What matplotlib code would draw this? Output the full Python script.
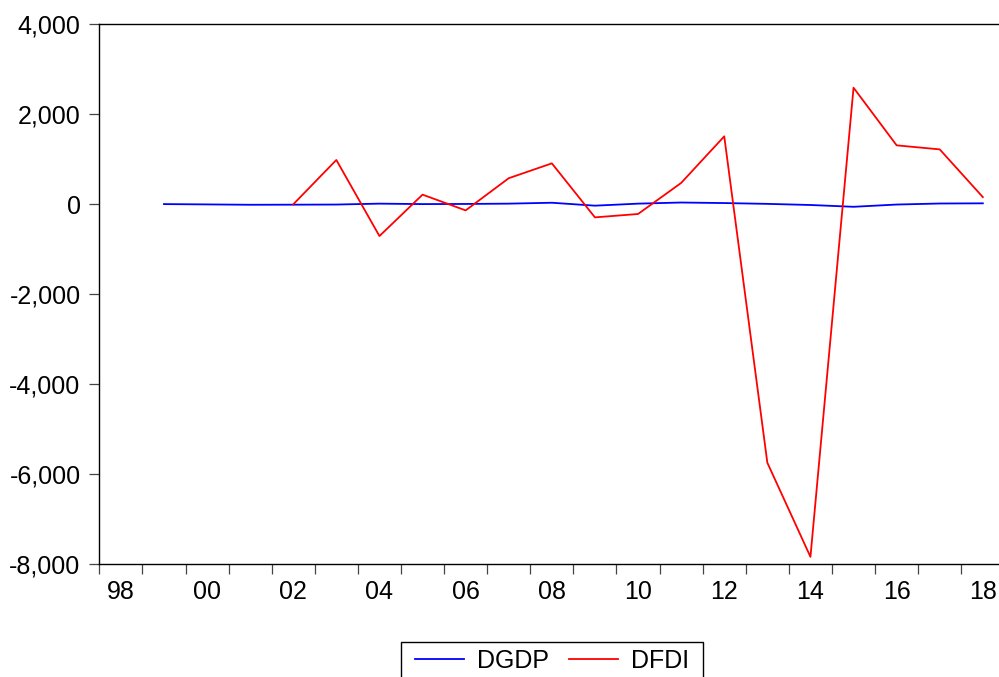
import matplotlib
matplotlib.use('Agg')
from matplotlib import pyplot as plt
from matplotlib.ticker import FuncFormatter, FixedLocator

plt.rcParams['font.family'] = ['Liberation Sans', 'DejaVu Sans']

# 年次データ
years_dgdp = list(range(1999, 2019))
dgdp = [5, -2, -10, -8, -5, 15, 5, 8, 15, 35, -30, 15, 40, 28, 10, -15, -55, -5, 18, 22]

years_dfdi = list(range(2002, 2019))
dfdi = [0, 985, -705, 215, -135, 580, 910, -290, -215, 475, 1510,
        -5740, -7830, 2590, 1310, 1220, 160]

year_labels = ['98', '00', '02', '04', '06', '08', '10', '12', '14', '16', '18']

W, H = 999, 677
fig = plt.figure(figsize=(W / 100, H / 100), dpi=100)
ax = fig.add_axes([0.0994, 0.1662, 0.906, 0.798])

# 点は各年の区間の中央に置く
ax.plot([y + 0.5 for y in years_dgdp], dgdp, color='#0000ff', lw=1.3, label='DGDP')
ax.plot([y + 0.5 for y in years_dfdi], dfdi, color='#ff0000', lw=1.3, label='DFDI')

ax.set_xlim(1998, 2019)
ax.set_ylim(-8000, 4000)
ax.set_yticks([-8000, -6000, -4000, -2000, 0, 2000, 4000])
ax.yaxis.set_major_formatter(FuncFormatter(lambda v, p: f'{int(v):,}'))

# 目盛りは年の境界、ラベルは偶数年の中央
ax.xaxis.set_major_locator(FixedLocator(list(range(1998, 2020))))
ax.xaxis.set_major_formatter(FuncFormatter(lambda v, p: ''))
ax.set_xticks([1998.5 + 2 * i for i in range(len(year_labels))], year_labels, minor=True)

ax.tick_params(axis='x', which='major', direction='out', length=7.5, width=0.9, color='#444444')
ax.tick_params(axis='x', which='minor', length=0, pad=11, labelsize=18)
ax.tick_params(axis='y', direction='out', length=7.5, width=0.9, color='#444444', pad=6, labelsize=18)

ax.spines['right'].set_visible(False)
for s in ['left', 'top', 'bottom']:
    ax.spines[s].set_linewidth(1.0)

# 凡例（枠は下で別に描く）
fig.legend(loc='center', bbox_to_anchor=(552 / W, 1 - 661 / H),
           ncol=2, fontsize=18, frameon=False,
           handlelength=1.96, handletextpad=0.52,
           columnspacing=0.8, borderpad=0, borderaxespad=0)
fig.add_artist(plt.Rectangle((401 / W, 1 - 700 / H), 302 / W, 58 / H,
                             transform=fig.transFigure, fill=False,
                             edgecolor='black', lw=1.0))

plt.savefig('out.png', dpi=100)
